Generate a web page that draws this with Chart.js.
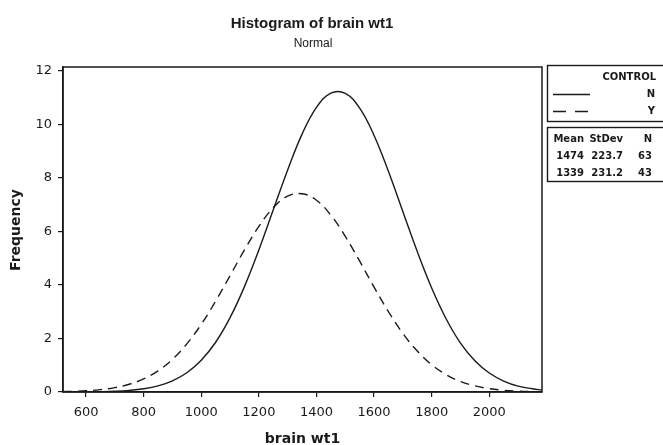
<!DOCTYPE html>
<html>
<head>
<meta charset="utf-8">
<script src="https://cdn.jsdelivr.net/npm/chart.js@4.4.0/dist/chart.umd.min.js"></script>
<style>
  body { margin: 0; background: #fff; }
  #wrap { position: relative; width: 663px; height: 445px; }
</style>
</head>
<body>
<div id="wrap"><canvas id="grafico" width="663" height="445"></canvas></div>
<script>
// valores (frecuencia esperada por clase de 100)
const pesos = [520, 550, 600, 650, 700, 750, 800, 850, 900, 950, 1000, 1050, 1100, 1150, 1200,
  1250, 1300, 1350, 1400, 1450, 1500, 1550, 1600, 1650, 1700, 1750, 1800, 1850, 1900, 1950,
  2000, 2050, 2100, 2150, 2183];
const frecN = [0.001, 0.002, 0.006, 0.013, 0.028, 0.06, 0.12, 0.23, 0.42, 0.72, 1.19, 1.86, 2.78,
  3.94, 5.31, 6.81, 8.30, 9.64, 10.64, 11.17, 11.16, 10.61, 9.59, 8.24, 6.74, 5.25, 3.89, 2.74,
  1.83, 1.17, 0.71, 0.41, 0.22, 0.12, 0.07];
const frecY = [0.014, 0.022, 0.045, 0.088, 0.163, 0.29, 0.49, 0.79, 1.22, 1.80, 2.53, 3.40, 4.35,
  5.31, 6.19, 6.89, 7.32, 7.41, 7.17, 6.61, 5.82, 4.89, 3.92, 3.00, 2.19, 1.53, 1.02, 0.65,
  0.39, 0.23, 0.125, 0.066, 0.033, 0.016, 0.01];
const ticksX = [600, 800, 1000, 1200, 1400, 1600, 1800, 2000];
const ticksY = [0, 2, 4, 6, 8, 10, 12];
const grupos = ['N', 'Y'];
const medias = ['1474', '1339'];
const desvios = ['223.7', '231.2'];
const tamanos = ['63', '43'];

const fuente = '"DejaVu Sans", Verdana, sans-serif';
const tinta = '#1a1a1a';

function puntos(xs, ys) {
  return xs.map(function(x, i) { return { x: x, y: ys[i] }; });
}

const cajaPlugin = {
  id: 'caja',
  afterDraw: function(chart) {
    const ctx = chart.ctx;
    const a = chart.chartArea;
    ctx.save();
    // marco del grafico
    ctx.strokeStyle = tinta;
    ctx.lineWidth = 1.5;
    ctx.strokeRect(a.left, a.top, a.right - a.left, a.bottom - a.top);

    // titulos
    ctx.fillStyle = tinta;
    ctx.textAlign = 'center';
    ctx.textBaseline = 'middle';
    ctx.font = 'bold 15px "Liberation Sans", Arial, sans-serif';
    ctx.fillText('Histogram of brain wt1', 312, 24);
    ctx.font = '12px "Liberation Sans", Arial, sans-serif';
    ctx.fillText('Normal', 313, 44);

    // titulos de ejes
    ctx.font = 'bold 14px ' + fuente;
    ctx.fillText('brain wt1', (a.left + a.right) / 2, 439);
    ctx.save();
    ctx.translate(16, 230);
    ctx.rotate(-Math.PI / 2);
    ctx.fillText('Frequency', 0, 0);
    ctx.restore();

    // leyenda
    ctx.lineWidth = 1.4;
    ctx.strokeRect(547.5, 65.5, 118, 56);
    ctx.strokeRect(547.5, 127.5, 118, 54);
    ctx.font = 'bold 10px ' + fuente;
    ctx.textAlign = 'right';
    ctx.fillText('CONTROL', 656, 77);
    ctx.fillText(grupos[0], 655, 94);
    ctx.fillText(grupos[1], 655, 111);
    ctx.lineWidth = 1.3;
    ctx.beginPath();
    ctx.moveTo(553, 94.5); ctx.lineTo(590, 94.5);
    ctx.stroke();
    ctx.setLineDash([13, 9]);
    ctx.beginPath();
    ctx.moveTo(553, 111.5); ctx.lineTo(590, 111.5);
    ctx.stroke();
    ctx.setLineDash([]);

    ctx.fillText('Mean', 584, 139);
    ctx.fillText('StDev', 623, 139);
    ctx.fillText('N', 652, 139);
    for (let i = 0; i < grupos.length; i++) {
      const y = 156 + i * 17;
      ctx.fillText(medias[i], 584, y);
      ctx.fillText(desvios[i], 623, y);
      ctx.fillText(tamanos[i], 652, y);
    }
    ctx.restore();
  }
};

document.addEventListener('DOMContentLoaded', function() {
  const ctx = document.getElementById('grafico').getContext('2d');
  new Chart(ctx, {
    type: 'line',
    data: {
      datasets: [{
        label: 'N',
        data: puntos(pesos, frecN),
        borderColor: tinta,
        borderWidth: 1.4,
        pointRadius: 0,
        tension: 0.4,
        fill: false
      }, {
        label: 'Y',
        data: puntos(pesos, frecY),
        borderColor: tinta,
        borderWidth: 1.4,
        borderDash: [9, 6],
        pointRadius: 0,
        tension: 0.4,
        fill: false
      }]
    },
    options: {
      responsive: false,
      animation: false,
      layout: { padding: { top: 67, right: 121, left: 0, bottom: 0 } },
      plugins: {
        legend: { display: false },
        tooltip: { enabled: false }
      },
      scales: {
        x: {
          type: 'linear',
          min: 520,
          max: 2183,
          afterFit: function(s) { s.height = 53; },
          afterBuildTicks: function(s) { s.ticks = ticksX.map(function(v) { return { value: v }; }); },
          grid: { drawOnChartArea: false, drawTicks: true, tickLength: 5, color: tinta, lineWidth: 1.2 },
          border: { display: true, color: tinta, width: 1.5 },
          ticks: {
            color: tinta, font: { family: fuente, size: 13 }, padding: 8, maxRotation: 0,
            callback: function(v) { return String(v); }
          }
        },
        y: {
          min: 0,
          max: 12.15,
          afterFit: function(s) { s.width = 63; },
          afterBuildTicks: function(s) { s.ticks = ticksY.map(function(v) { return { value: v }; }); },
          grid: { drawOnChartArea: false, drawTicks: true, tickLength: 5, color: tinta, lineWidth: 1.2 },
          border: { display: true, color: tinta, width: 1.5 },
          ticks: { color: tinta, font: { family: fuente, size: 13 }, padding: 6 }
        }
      }
    },
    plugins: [cajaPlugin]
  });
});
</script>
</body>
</html>
